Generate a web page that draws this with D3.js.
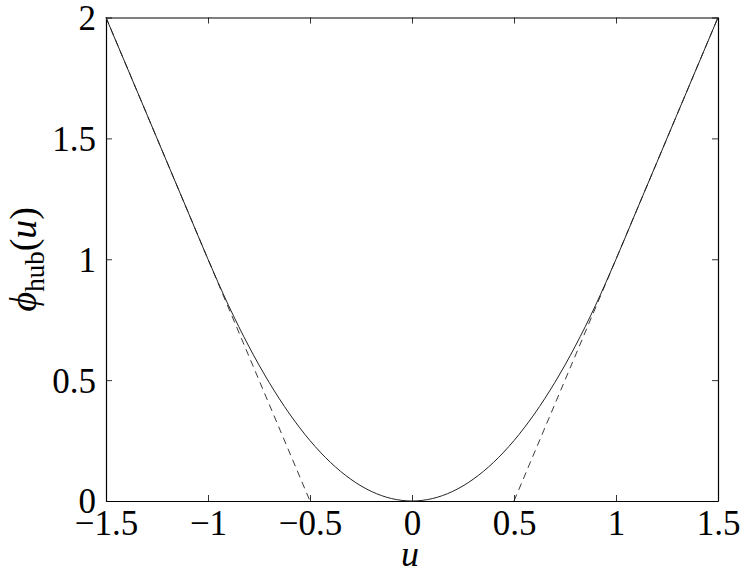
<!DOCTYPE html>
<html>
<head>
<meta charset="utf-8">
<script src="https://cdn.jsdelivr.net/npm/d3@7"></script>
<style>
  body { margin: 0; background: #fff; }
  svg text { font-family: "Liberation Serif", "DejaVu Serif", serif; fill: #000; }
</style>
</head>
<body>
<div class="plot"></div>
<script>
// values
const uVals = [-1.5, -1.4, -1.3, -1.2, -1.1, -1.0, -0.9, -0.8, -0.7, -0.6, -0.5, -0.4, -0.3, -0.2, -0.1,
  0, 0.1, 0.2, 0.3, 0.4, 0.5, 0.6, 0.7, 0.8, 0.9, 1.0, 1.1, 1.2, 1.3, 1.4, 1.5]
const hubVals = [2.0, 1.8, 1.6, 1.4, 1.2, 1.0, 0.81, 0.64, 0.49, 0.36, 0.25, 0.16, 0.09, 0.04, 0.01,
  0, 0.01, 0.04, 0.09, 0.16, 0.25, 0.36, 0.49, 0.64, 0.81, 1.0, 1.2, 1.4, 1.6, 1.8, 2.0]
// dashed linear extensions (two segments)
const dashLeftU = [-1.5, -0.5]
const dashLeftV = [2.0, 0]
const dashRightU = [0.5, 1.5]
const dashRightV = [0, 2.0]

const xTicks = [-1.5, -1, -0.5, 0, 0.5, 1, 1.5]
const yTicks = [0, 0.5, 1, 1.5, 2]

const width = 752
const height = 573
const mLeft = 106, mRight = 718, mTop = 17.5, mBottom = 501

const svg = d3.select('.plot').append('svg')
  .attr('width', width)
  .attr('height', height)

const xScale = d3.scaleLinear().domain([-1.5, 1.5]).range([mLeft, mRight])
const yScale = d3.scaleLinear().domain([0, 2]).range([mBottom, mTop])

const fmt = (d) => String(d).replace('-', '\u2212')

// bottom axis
const xAxis = d3.axisBottom(xScale).tickValues(xTicks).tickSizeInner(-6).tickSizeOuter(0).tickPadding(9).tickFormat(fmt)
const gx = svg.append('g').attr('transform', `translate(0, ${mBottom})`).call(xAxis)
// top axis (ticks only)
svg.append('g').attr('transform', `translate(0, ${mTop})`)
  .call(d3.axisTop(xScale).tickValues(xTicks).tickSizeInner(-6).tickSizeOuter(0).tickFormat(''))
// left axis
const yAxis = d3.axisLeft(yScale).tickValues(yTicks).tickSizeInner(-6).tickSizeOuter(0).tickPadding(10).tickFormat(fmt)
const gy = svg.append('g').attr('transform', `translate(${mLeft}, 0)`).call(yAxis)
// right axis (ticks only)
svg.append('g').attr('transform', `translate(${mRight}, 0)`)
  .call(d3.axisRight(yScale).tickValues(yTicks).tickSizeInner(-6).tickSizeOuter(0).tickFormat(''))

svg.selectAll('.domain').attr('stroke', '#000').attr('stroke-width', 1.2)
svg.selectAll('.tick line').attr('stroke', '#000').attr('stroke-width', 0.8)
gx.selectAll('text').style('font-size', '35px').attr('dy', '0.71em')
gy.selectAll('text').style('font-size', '35px').attr('dy', '0.34em')

// huber curve
const line = d3.line()
  .x((d) => xScale(d[0]))
  .y((d) => yScale(d[1]))
  .curve(d3.curveMonotoneX)

svg.append('path')
  .datum(uVals.map((u, i) => [u, hubVals[i]]))
  .attr('d', line)
  .attr('fill', 'none')
  .attr('stroke', '#222')
  .attr('stroke-width', 1)

const straight = d3.line().x((d) => xScale(d[0])).y((d) => yScale(d[1]))
;[[dashLeftU, dashLeftV], [dashRightU, dashRightV]].forEach(([us, vs]) => {
  svg.append('path')
    .datum(us.map((u, i) => [u, vs[i]]))
    .attr('d', straight)
    .attr('fill', 'none')
    .attr('stroke', '#222')
    .attr('stroke-width', 0.9)
    .attr('stroke-dasharray', '7,5')
})

// axis labels
svg.append('text')
  .attr('x', xScale(0) - 2)
  .attr('y', 566)
  .attr('text-anchor', 'middle')
  .style('font-size', '36px')
  .style('font-style', 'italic')
  .text('u')

const ylab = svg.append('text')
  .attr('transform', `translate(36, ${yScale(1)}) rotate(-90)`)
  .attr('text-anchor', 'middle')
  .style('font-size', '38px')
ylab.append('tspan').style('font-style', 'italic').text('\u03d5')
ylab.append('tspan').attr('dy', 8).style('font-size', '27px').text('hub')
ylab.append('tspan').attr('dy', -8).text('(')
ylab.append('tspan').style('font-style', 'italic').text('u')
ylab.append('tspan').text(')')
</script>
</body>
</html>
